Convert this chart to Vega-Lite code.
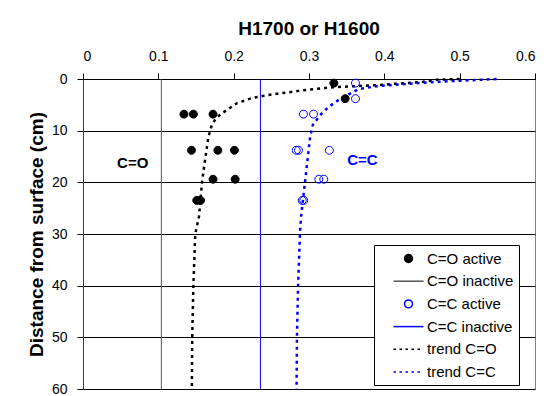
{
  "$schema": "https://vega.github.io/schema/vega-lite/v6.json",
  "width": 452,
  "height": 310,
  "autosize": {"type": "none"},
  "padding": {"left": 83, "top": 79, "right": 18, "bottom": 7},
  "background": "white",
  "title": {"text": "H1700 or H1600", "font": "Liberation Sans", "fontSize": 19, "fontWeight": "bold", "color": "black", "offset": 10, "anchor": "middle"},
  "datasets": {
    "active": [
      {"series": "C=O active", "value": 0.333, "depth": 0.8},
      {"series": "C=O active", "value": 0.348, "depth": 3.8},
      {"series": "C=O active", "value": 0.134, "depth": 6.8},
      {"series": "C=O active", "value": 0.1465, "depth": 6.8},
      {"series": "C=O active", "value": 0.1726, "depth": 6.8},
      {"series": "C=O active", "value": 0.144, "depth": 13.8},
      {"series": "C=O active", "value": 0.179, "depth": 13.8},
      {"series": "C=O active", "value": 0.201, "depth": 13.8},
      {"series": "C=O active", "value": 0.1726, "depth": 19.4},
      {"series": "C=O active", "value": 0.202, "depth": 19.4},
      {"series": "C=O active", "value": 0.151, "depth": 23.5},
      {"series": "C=O active", "value": 0.156, "depth": 23.5},
      {"series": "C=C active", "value": 0.3617, "depth": 0.8},
      {"series": "C=C active", "value": 0.3617, "depth": 3.8},
      {"series": "C=C active", "value": 0.2926, "depth": 6.8},
      {"series": "C=C active", "value": 0.306, "depth": 6.8},
      {"series": "C=C active", "value": 0.283, "depth": 13.8},
      {"series": "C=C active", "value": 0.286, "depth": 13.8},
      {"series": "C=C active", "value": 0.327, "depth": 13.8},
      {"series": "C=C active", "value": 0.313, "depth": 19.4},
      {"series": "C=C active", "value": 0.3196, "depth": 19.4},
      {"series": "C=C active", "value": 0.291, "depth": 23.5},
      {"series": "C=C active", "value": 0.293, "depth": 23.5}
    ],
    "inactive": [
      {"series": "C=O inactive", "value": 0.104},
      {"series": "C=C inactive", "value": 0.2355}
    ],
    "trend": [
      {"series": "trend C=O", "value": 0.5, "depth": 0},
      {"series": "trend C=O", "value": 0.47, "depth": 0.13},
      {"series": "trend C=O", "value": 0.45, "depth": 0.58},
      {"series": "trend C=O", "value": 0.43, "depth": 0.77},
      {"series": "trend C=O", "value": 0.41, "depth": 0.97},
      {"series": "trend C=O", "value": 0.395, "depth": 1.16},
      {"series": "trend C=O", "value": 0.365, "depth": 1.35},
      {"series": "trend C=O", "value": 0.332, "depth": 1.6},
      {"series": "trend C=O", "value": 0.297, "depth": 2.1},
      {"series": "trend C=O", "value": 0.245, "depth": 3.1},
      {"series": "trend C=O", "value": 0.224, "depth": 3.7},
      {"series": "trend C=O", "value": 0.204, "depth": 4.7},
      {"series": "trend C=O", "value": 0.188, "depth": 6.3},
      {"series": "trend C=O", "value": 0.177, "depth": 7.5},
      {"series": "trend C=O", "value": 0.171, "depth": 8.9},
      {"series": "trend C=O", "value": 0.1665, "depth": 11.2},
      {"series": "trend C=O", "value": 0.162, "depth": 15.7},
      {"series": "trend C=O", "value": 0.158, "depth": 19.9},
      {"series": "trend C=O", "value": 0.154, "depth": 26.6},
      {"series": "trend C=O", "value": 0.149, "depth": 30},
      {"series": "trend C=O", "value": 0.1465, "depth": 40},
      {"series": "trend C=O", "value": 0.145, "depth": 50},
      {"series": "trend C=O", "value": 0.1445, "depth": 60},
      {"series": "trend C=C", "value": 0.549, "depth": 0},
      {"series": "trend C=C", "value": 0.52, "depth": 0.2},
      {"series": "trend C=C", "value": 0.49, "depth": 0.4},
      {"series": "trend C=C", "value": 0.465, "depth": 0.6},
      {"series": "trend C=C", "value": 0.44, "depth": 0.85},
      {"series": "trend C=C", "value": 0.415, "depth": 1.1},
      {"series": "trend C=C", "value": 0.39, "depth": 1.4},
      {"series": "trend C=C", "value": 0.372, "depth": 1.8},
      {"series": "trend C=C", "value": 0.364, "depth": 2.1},
      {"series": "trend C=C", "value": 0.355, "depth": 2.8},
      {"series": "trend C=C", "value": 0.339, "depth": 4.1},
      {"series": "trend C=C", "value": 0.326, "depth": 5.4},
      {"series": "trend C=C", "value": 0.316, "depth": 6.8},
      {"series": "trend C=C", "value": 0.305, "depth": 8.9},
      {"series": "trend C=C", "value": 0.3015, "depth": 11.2},
      {"series": "trend C=C", "value": 0.298, "depth": 15.7},
      {"series": "trend C=C", "value": 0.2935, "depth": 21.5},
      {"series": "trend C=C", "value": 0.2895, "depth": 26.6},
      {"series": "trend C=C", "value": 0.288, "depth": 30},
      {"series": "trend C=C", "value": 0.2855, "depth": 40},
      {"series": "trend C=C", "value": 0.284, "depth": 50},
      {"series": "trend C=C", "value": 0.2835, "depth": 60}
    ],
    "labels": [
      {"label": "C=O", "value": 0.066, "depth": 16.2},
      {"label": "C=C", "value": 0.371, "depth": 15.7}
    ]
  },
  "layer": [
    {
      "data": {"name": "inactive"},
      "mark": {"type": "rule", "strokeWidth": 1},
      "encoding": {
        "x": {"field": "value", "type": "quantitative", "scale": {"domain": [0, 0.6]}, "title": null,
              "axis": {"orient": "top", "values": [0, 0.1, 0.2, 0.3, 0.4, 0.5, 0.6], "format": "~g", "grid": false, "domainColor": "black"}},
        "color": {"field": "series", "type": "nominal",
                  "scale": {"domain": ["C=O active", "C=O inactive", "C=C active", "C=C inactive", "trend C=O", "trend C=C"],
                            "range": ["#000000", "#555555", "#0000FF", "#0000FF", "#000000", "#0000FF"]},
                  "legend": {"title": null, "orient": "none", "legendX": 291, "legendY": 166, "padding": 5,
                             "strokeColor": "black", "fillColor": "white", "symbolSize": 225, "symbolOffset": 21,
                             "labelOffset": 10, "rowPadding": 5.7, "labelFont": "Liberation Sans", "labelFontSize": 15,
                             "labelColor": "black", "labelLimit": 300, "symbolStrokeWidth": 1.5}}
      }
    },
    {
      "data": {"name": "trend"},
      "mark": {"type": "line", "strokeWidth": 2.5, "strokeDash": [3, 4]},
      "encoding": {
        "x": {"field": "value", "type": "quantitative", "title": null},
        "y": {"field": "depth", "type": "quantitative", "scale": {"domain": [0, 60], "reverse": true}, "title": "Distance from surface (cm)",
              "axis": {"values": [0, 10, 20, 30, 40, 50, 60], "grid": true}},
        "color": {"field": "series", "type": "nominal"},
        "order": {"field": "depth", "type": "quantitative"}
      }
    },
    {
      "data": {"name": "active"},
      "mark": {"type": "point", "filled": false, "size": 225, "strokeWidth": 1, "opacity": 1},
      "encoding": {
        "x": {"field": "value", "type": "quantitative", "title": null},
        "y": {"field": "depth", "type": "quantitative", "title": "Distance from surface (cm)"},
        "color": {"field": "series", "type": "nominal"},
        "fill": {"field": "series", "type": "nominal",
                 "scale": {"domain": ["C=O active", "C=O inactive", "C=C active", "C=C inactive", "trend C=O", "trend C=C"],
                           "range": ["#000000", "transparent", "transparent", "transparent", "transparent", "transparent"]},
                 "legend": {"title": null, "orient": "none", "legendX": 291, "legendY": 166, "padding": 5,
                             "strokeColor": "black", "fillColor": "white", "symbolSize": 225, "symbolOffset": 21,
                             "labelOffset": 10, "rowPadding": 5.7, "labelFont": "Liberation Sans", "labelFontSize": 15,
                             "labelColor": "black", "labelLimit": 300, "symbolStrokeWidth": 1.5}},
        "shape": {"field": "series", "type": "nominal",
                  "scale": {"domain": ["C=O active", "C=O inactive", "C=C active", "C=C inactive", "trend C=O", "trend C=C"],
                            "range": ["M-0.53,0A0.53,0.53,0,1,0,0.53,0A0.53,0.53,0,1,0,-0.53,0", "M-2,0H2", "M-0.53,0A0.53,0.53,0,1,0,0.53,0A0.53,0.53,0,1,0,-0.53,0", "M-2,0H2", "M-2,0H-1.67M-1.2,0H-0.87M-0.4,0H-0.07M0.4,0H0.73M1.2,0H1.53", "M-2,0H-1.67M-1.2,0H-0.87M-0.4,0H-0.07M0.4,0H0.73M1.2,0H1.53"]},
                  "legend": {"title": null, "orient": "none", "legendX": 291, "legendY": 166, "padding": 5,
                             "strokeColor": "black", "fillColor": "white", "symbolSize": 225, "symbolOffset": 21,
                             "labelOffset": 10, "rowPadding": 5.7, "labelFont": "Liberation Sans", "labelFontSize": 15,
                             "labelColor": "black", "labelLimit": 300, "symbolStrokeWidth": 1.5}}
      }
    },
    {
      "data": {"name": "labels"},
      "transform": [{"filter": "datum.label === 'C=O'"}],
      "mark": {"type": "text", "font": "Liberation Sans", "fontSize": 15, "fontWeight": "bold", "color": "#000000", "align": "center", "baseline": "middle"},
      "encoding": {
        "x": {"field": "value", "type": "quantitative", "title": null},
        "y": {"field": "depth", "type": "quantitative", "title": "Distance from surface (cm)"},
        "text": {"field": "label"}
      }
    },
    {
      "data": {"name": "labels"},
      "transform": [{"filter": "datum.label === 'C=C'"}],
      "mark": {"type": "text", "font": "Liberation Sans", "fontSize": 15, "fontWeight": "bold", "color": "#0000FF", "align": "center", "baseline": "middle"},
      "encoding": {
        "x": {"field": "value", "type": "quantitative", "title": null},
        "y": {"field": "depth", "type": "quantitative", "title": "Distance from surface (cm)"},
        "text": {"field": "label"}
      }
    }
  ],
  "config": {
    "view": {"stroke": "#808080", "strokeWidth": 1},
    "axis": {"labelFont": "Liberation Sans", "labelFontSize": 14, "labelColor": "black", "tickColor": "black",
             "tickSize": 6, "labelPadding": 10, "titleFont": "Liberation Sans", "titleFontSize": 19,
             "titleFontWeight": "bold", "titleColor": "black"},
    "axisY": {"gridColor": "#000000", "gridOpacity": 1, "gridWidth": 1, "domainColor": "#404040", "titlePadding": 5}
  }
}
